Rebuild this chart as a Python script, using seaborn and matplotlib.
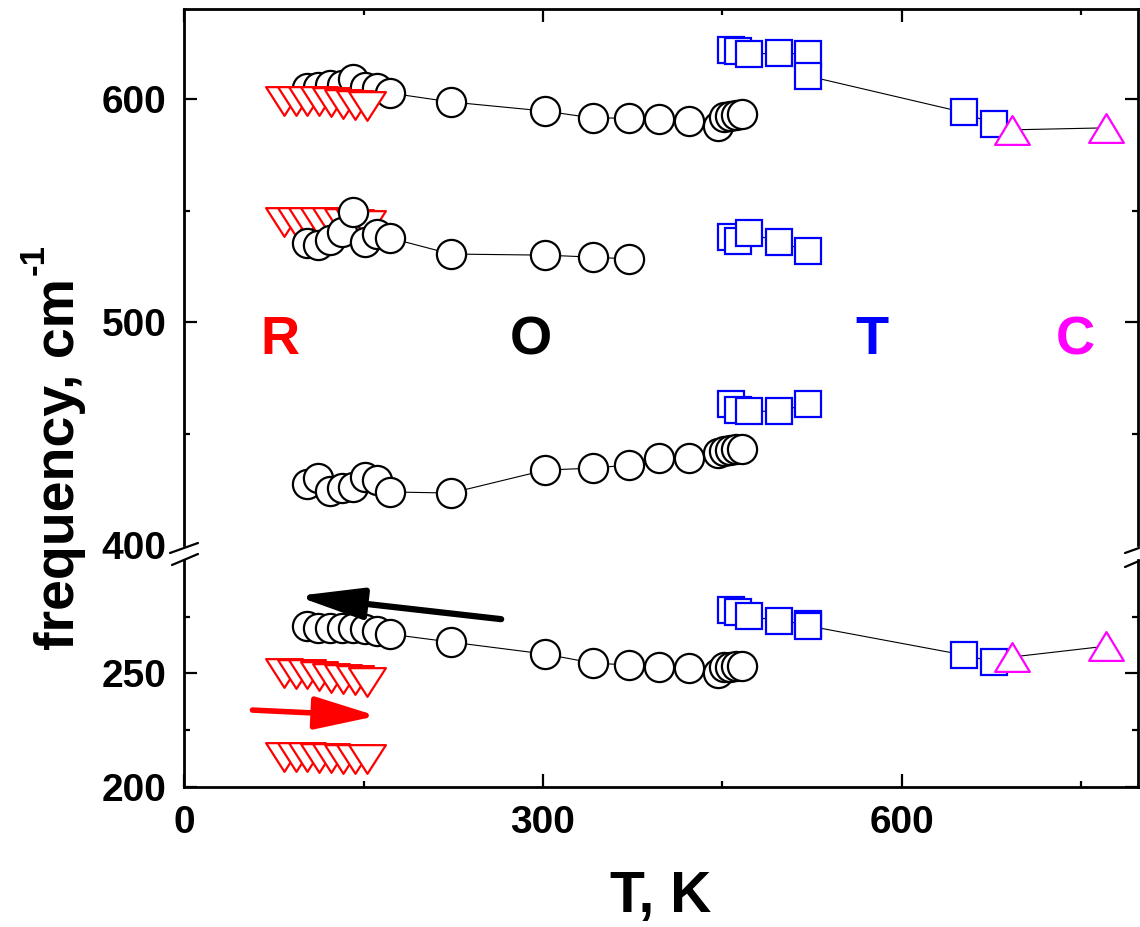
import numpy as np
import pandas as pd
import matplotlib
matplotlib.use("Agg")
import matplotlib.pyplot as plt
import seaborn as sns
from matplotlib.path import Path
from matplotlib.lines import Line2D

# ---------------- data ----------------
T_R = [83, 93, 103, 113, 123, 133, 143, 153]
R_600 = [599.0, 599.0, 599.0, 599.0, 598.5, 598.0, 597.5, 597.0]
R_545 = [545.0, 545.0, 545.0, 545.0, 545.0, 544.5, 544.0, 543.5]
R_250 = [250.0, 249.5, 249.5, 249.0, 248.0, 247.5, 247.0, 246.0]
R_213 = [213.0, 213.0, 213.0, 212.5, 212.5, 212.0, 212.0, 212.0]

T_O = [103, 112, 122, 132, 141, 151, 161, 172, 223, 302, 342, 372, 397, 422, 446, 451, 456, 461, 466]
O_600 = [604.9, 605.4, 606.3, 606.3, 609.0, 605.4, 604.9, 602.7, 598.7, 594.6, 591.5, 591.5,
         591.0, 590.0, 588.0, 592.0, 592.4, 593.0, 593.3]
T_O550 = [103, 112, 122, 132, 141, 151, 161, 172, 223, 302, 342, 372]
O_550 = [535.4, 534.5, 536.8, 540.4, 549.3, 535.9, 539.5, 537.7, 530.5, 530.0, 529.1, 528.3]
O_430 = [427.4, 430.0, 424.2, 425.6, 426.0, 430.5, 429.1, 423.8, 423.3, 433.6, 434.5, 435.9,
         439.0, 439.0, 441.3, 442.2, 442.6, 443.0, 443.0]
O_270 = [270.9, 270.0, 270.0, 270.0, 270.0, 269.5, 268.7, 267.3, 263.8, 258.5, 254.5, 253.7,
         252.8, 252.4, 250.1, 252.8, 252.8, 253.2, 253.2]

T_T = [457, 463, 472, 497, 522]
T_T_long = [457, 463, 472, 497, 522, 522, 652, 677]
T_620 = [622.0, 621.7, 620.3, 620.5, 620.2, 610.3, 594.0, 588.7]
T_540 = [538.1, 536.3, 540.0, 535.9, 531.8]
T_460 = [463.2, 460.5, 460.0, 460.0, 463.2]
T_275 = [277.9, 277.0, 275.3, 273.1, 271.7, 270.9, 258.1, 255.0]

T_C = [692, 771]
C_587 = [586.2, 587.1]
C_260 = [257.2, 262.0]

phase_labels = ["R", "O", "T", "C"]
phase_x = [80, 290, 575, 745]
phase_colors = ["#ff0000", "#000000", "#0000ff", "#ff00ff"]

# ---------------- style ----------------
sns.set_style("ticks")
plt.rcParams["font.family"] = ["Liberation Sans", "DejaVu Sans"]
plt.rcParams["font.weight"] = "bold"
plt.rcParams["text.color"] = "black"
plt.rcParams["axes.labelcolor"] = "black"
plt.rcParams["xtick.color"] = "black"
plt.rcParams["ytick.color"] = "black"

W, H = 1140, 927
fig = plt.figure(figsize=(W / 100, H / 100), dpi=100)
fig.patch.set_facecolor("white")

left = 184.3 / W
width = (1138 - 184.3) / W
ax1 = fig.add_axes([left, 1 - 545 / H, width, (545 - 9) / H])
ax2 = fig.add_axes([left, 1 - 786.7 / H, width, (786.7 - 560) / H])

tri_down = Path([(-1, 0.78), (1, 0.78), (0, -0.78), (-1, 0.78)],
                [Path.MOVETO, Path.LINETO, Path.LINETO, Path.CLOSEPOLY])
tri_up = Path([(-1, -0.83), (1, -0.83), (0, 0.83), (-1, -0.83)],
              [Path.MOVETO, Path.LINETO, Path.LINETO, Path.CLOSEPOLY])

def series(ax, x, y, marker, ms, color, line=True):
    sns.lineplot(x=x, y=y, ax=ax, estimator=None, sort=False, errorbar=None,
                 color="black", linewidth=0.8 if line else 0,
                 linestyle="-" if line else "none",
                 marker=marker, markersize=ms, markerfacecolor="white",
                 markeredgecolor=color, markeredgewidth=1.6)

# upper panel
series(ax1, T_R, R_545, tri_down, 26.5, "#ff0000", line=False)
series(ax1, T_O550, O_550, "o", 21, "black")
series(ax1, T_O, O_600, "o", 21, "black")
series(ax1, T_R, R_600, tri_down, 26.5, "#ff0000", line=False)
series(ax1, T_O, O_430, "o", 21, "black")
series(ax1, T_T_long, T_620, "s", 18.5, "#0000ff")
series(ax1, T_T, T_540, "s", 18.5, "#0000ff")
series(ax1, T_T, T_460, "s", 18.5, "#0000ff")
series(ax1, T_C, C_587, tri_up, 25, "#ff00ff")

# lower panel
series(ax2, T_O, O_270, "o", 21, "black")
series(ax2, T_R, R_250, tri_down, 26.5, "#ff0000", line=False)
series(ax2, T_R, R_213, tri_down, 26.5, "#ff0000", line=False)
series(ax2, T_T_long, T_275, "s", 18.5, "#0000ff")
series(ax2, T_C, C_260, tri_up, 25, "#ff00ff")

# arrows
ax2.annotate("", xy=(94, 284.1), xytext=(265, 273.9),
             arrowprops=dict(arrowstyle="-|>,head_length=4.0,head_width=0.95",
                             color="black", lw=4.5, mutation_scale=10,
                             shrinkA=0, shrinkB=0))
ax2.annotate("", xy=(161, 231.2), xytext=(57, 233.8),
             arrowprops=dict(arrowstyle="-|>,head_length=3.8,head_width=1.0",
                             color="#ff0000", lw=4.0, mutation_scale=10,
                             shrinkA=0, shrinkB=0))

# phase labels
for lab, px, c in zip(phase_labels, phase_x, phase_colors):
    ax1.text(px, 485.5, lab, color=c, fontsize=39, fontweight="bold",
             ha="center", va="baseline")

# axes formatting
for ax in (ax1, ax2):
    ax.set_xlim(0, 797.6)
    ax.set_xlabel("")
    ax.set_ylabel("")
    ax.set_xticks([0, 300, 600])
    ax.set_xticks([150, 450, 750], minor=True)
    for s in ax.spines.values():
        s.set_linewidth(2.0)
        s.set_color("black")
    ax.tick_params(which="both", direction="in", width=1.6, colors="black",
                   left=True, right=True, labelleft=True, labelright=False)
    ax.tick_params(which="major", length=9.4, labelsize=28, pad=13)
    ax.tick_params(which="minor", length=4.5)
    ax.set_facecolor("white")

ax1.set_ylim(400, 640.4)
ax1.set_yticks([400, 500, 600])
ax1.set_yticks([450, 550], minor=True)
ax1.spines["bottom"].set_visible(False)
ax1.tick_params(axis="x", which="both", bottom=False, top=True,
                labelbottom=False, labeltop=False)

ax2.set_ylim(200, 300)
ax2.set_yticks([200, 250])
ax2.set_yticks([225, 275], minor=True)
ax2.spines["top"].set_visible(False)
ax2.tick_params(axis="x", which="both", bottom=True, top=False,
                labelbottom=True, labeltop=False)

for ax in (ax1, ax2):
    for lbl in ax.get_xticklabels() + ax.get_yticklabels():
        lbl.set_fontweight("bold")
        lbl.set_color("black")

# hide tick marks at the break edge
t400 = ax1.yaxis.get_major_ticks()[0]
t400.tick1line.set_visible(False)
t400.tick2line.set_visible(False)

# break marks
def fline(x0, y0, x1, y1):
    fig.add_artist(Line2D([x0 / W, x1 / W], [1 - y0 / H, 1 - y1 / H],
                          transform=fig.transFigure, color="black", lw=1.6))

fline(170, 553, 198, 543)
fline(172, 565, 198, 554)
fline(1125, 553, 1139, 548)
fline(1125, 567, 1139, 561)

# axis titles
fig.text(661 / W, 1 - 912 / H, "T, K", fontsize=41, fontweight="bold",
         color="black", ha="center", va="baseline")
ylab = fig.text(74 / W, 1 - 650 / H, "frequency, cm", fontsize=40,
                fontweight="bold", color="black", rotation=90,
                rotation_mode="anchor", ha="left", va="baseline")
fig.canvas.draw()
bb = ylab.get_window_extent(renderer=fig.canvas.get_renderer())
# superscript "-1" placed at the end of the rotated label, raised (to the left)
fig.text(74 / W - 30 / W, (bb.y1 + 3) / H, "-1", fontsize=25,
         fontweight="bold", color="black", rotation=90,
         rotation_mode="anchor", ha="left", va="baseline")

fig.savefig("out.png", dpi=100, facecolor="white")
